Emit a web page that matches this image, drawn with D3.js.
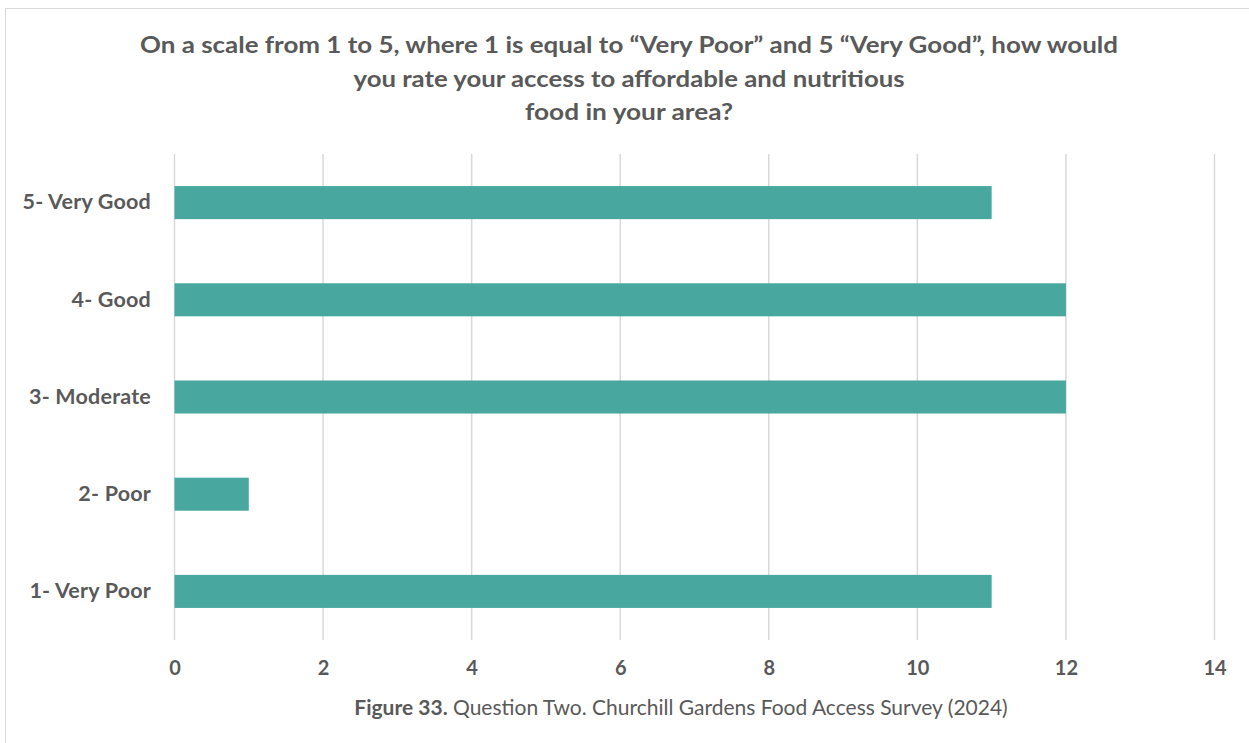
<!DOCTYPE html>
<html><head><meta charset="utf-8">
<script src="https://cdn.jsdelivr.net/npm/d3@7"></script>
<style>body{margin:0;background:#fff;}svg{display:block;}</style>
</head><body>
<script>
const categories = ["5- Very Good","4- Good","3- Moderate","2- Poor","1- Very Poor"];
const values = [11,12,12,1,11];
const ticks = [0,2,4,6,8,10,12,14];
const titleLines = ["On a scale from 1 to 5, where 1 is equal to \u201cVery Poor\u201d and 5 \u201cVery Good\u201d, how would","you rate your access to affordable and nutritious","food in your area?"];
const titleWidths = [978,551,208];

const W=1249,H=743;
const svg=d3.select("body").append("svg").attr("width",W).attr("height",H);
svg.append("rect").attr("x",5.5).attr("y",8.5).attr("width",W+10).attr("height",H+10).attr("fill","#fff").attr("stroke","#d9d9d9");
const font="Lato, 'Open Sans', sans-serif";
const x=d3.scaleLinear().domain([0,14]).range([174.5,1214.5]);
const y=d3.scaleBand().domain(categories).range([154,640]).paddingInner(0.66).paddingOuter(0.33);

svg.append("g").selectAll("line").data(ticks).join("line")
 .attr("x1",d=>x(d)).attr("x2",d=>x(d)).attr("y1",154).attr("y2",640)
 .attr("stroke","#d9d9d9").attr("stroke-width",1.5);

svg.append("g").selectAll("rect").data(values).join("rect")
 .attr("x",x(0)).attr("y",(d,i)=>y(categories[i])).attr("width",d=>x(d)-x(0)).attr("height",y.bandwidth())
 .attr("fill","#48a89f");

const ax=svg.append("g").attr("transform","translate(0,640)")
 .call(d3.axisBottom(x).tickValues(ticks).tickSize(0).tickPadding(21).tickFormat(d3.format("d")));
ax.select(".domain").remove();
ax.selectAll("text").attr("font-family",font).attr("font-size",20).attr("font-weight","bold").attr("fill","#595959");

const ay=svg.append("g").attr("transform","translate(174,0)")
 .call(d3.axisLeft(y).tickSize(0).tickPadding(23));
ay.select(".domain").remove();
ay.selectAll("text").attr("font-family",font).attr("font-size",21.5).attr("font-weight","bold").attr("fill","#595959").attr("letter-spacing","0.2");

svg.append("g").selectAll("text").data(titleLines).join("text")
 .attr("x",629).attr("y",(d,i)=>53+i*33.5).attr("text-anchor","middle")
 .attr("font-family",font).attr("font-size",23.5).attr("font-weight","bold").attr("fill","#595959")
 .attr("textLength",(d,i)=>titleWidths[i]).attr("lengthAdjust","spacingAndGlyphs").text(d=>d);

const cap=svg.append("text").attr("x",681).attr("y",715).attr("text-anchor","middle")
 .attr("font-family",font).attr("font-size",21).attr("fill","#595959");
cap.append("tspan").attr("font-weight","bold").text("Figure 33.");
cap.append("tspan").text(" Question Two. Churchill Gardens Food Access Survey (2024)");
</script>
</body></html>
